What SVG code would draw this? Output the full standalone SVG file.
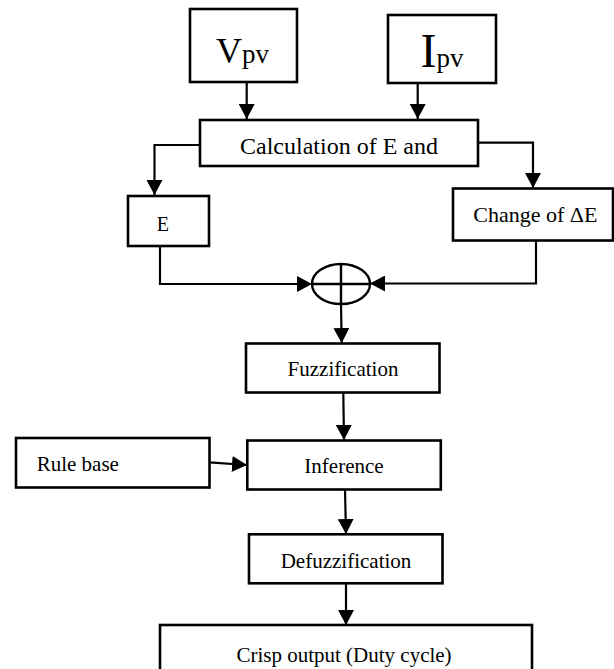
<svg xmlns="http://www.w3.org/2000/svg" width="614" height="669" viewBox="0 0 614 669">
  <style>
    .box { fill: #ffffff; stroke: #000000; stroke-width: 2.6; }
    .lbl { font-family: "Liberation Serif", "Times New Roman", serif; fill: #000000; }
    .wire { fill: none; stroke: #000000; stroke-width: 2.2; }
    .sum { fill: none; stroke: #000000; stroke-width: 2.4; }
  </style>
  <defs>
    <marker id="arrow" markerUnits="userSpaceOnUse" markerWidth="16" markerHeight="16" viewBox="0 0 16 16" refX="15" refY="8" orient="auto">
      <path d="M0,0 L15,8 L0,16 Z" fill="#000000"/>
    </marker>
  </defs>

  <!-- input: PV voltage -->
  <g id="vpv">
    <rect class="box" x="190" y="9" width="107" height="73"/>
    <text class="lbl" x="216" y="63"><tspan font-size="36">V</tspan><tspan font-size="27">pv</tspan></text>
  </g>

  <!-- input: PV current -->
  <g id="ipv">
    <rect class="box" x="388" y="15" width="108" height="68"/>
    <text class="lbl" x="420.5" y="66.5"><tspan font-size="48">I</tspan><tspan font-size="27">pv</tspan></text>
  </g>

  <!-- error calculation -->
  <g id="calc">
    <rect class="box" x="200" y="120" width="278" height="46"/>
    <text class="lbl" x="339" y="153.5" font-size="24" text-anchor="middle">Calculation of E and</text>
  </g>

  <!-- error E -->
  <g id="err">
    <rect class="box" x="128" y="196" width="81" height="50"/>
    <text class="lbl" x="156.7" y="230.7" font-size="20">E</text>
  </g>

  <!-- change of error -->
  <g id="derr">
    <rect class="box" x="453" y="188.5" width="160" height="52"/>
    <text class="lbl" x="473.3" y="222" font-size="22">Change of ΔE</text>
  </g>

  <!-- summing junction -->
  <g id="sum">
    <ellipse class="sum" cx="341" cy="284" rx="29" ry="20"/>
    <line class="sum" x1="341" y1="264" x2="341" y2="304"/>
    <line class="sum" x1="312" y1="284" x2="370" y2="284"/>
  </g>

  <!-- fuzzy controller stages -->
  <g id="fuzz">
    <rect class="box" x="246" y="343.5" width="193.5" height="49"/>
    <text class="lbl" x="343" y="375.7" font-size="21" text-anchor="middle">Fuzzification</text>
  </g>

  <g id="rules">
    <rect class="box" x="16" y="438" width="193.5" height="49.5"/>
    <text class="lbl" x="36.7" y="470.7" font-size="21">Rule base</text>
  </g>

  <g id="infer">
    <rect class="box" x="247.3" y="440.5" width="193.5" height="49"/>
    <text class="lbl" x="344" y="472.7" font-size="21" text-anchor="middle">Inference</text>
  </g>

  <g id="defuzz">
    <rect class="box" x="249" y="534.3" width="193.5" height="49"/>
    <text class="lbl" x="346" y="568.3" font-size="21" text-anchor="middle">Defuzzification</text>
  </g>

  <g id="out">
    <rect class="box" x="160" y="625" width="372" height="60"/>
    <text class="lbl" x="344" y="661.5" font-size="21" text-anchor="middle">Crisp output (Duty cycle)</text>
  </g>

  <!-- signal flow -->
  <g id="connectors">
    <polyline class="wire" points="246.7,82 246.7,119" marker-end="url(#arrow)"/>
    <polyline class="wire" points="417.7,83 417.7,119" marker-end="url(#arrow)"/>
    <polyline class="wire" points="200,145 154.5,145 154.5,195" marker-end="url(#arrow)"/>
    <polyline class="wire" points="478,142.7 533,142.7 533,188" marker-end="url(#arrow)"/>
    <polyline class="wire" points="160,246 160,284 312,284" marker-end="url(#arrow)"/>
    <polyline class="wire" points="536,240.5 536,283.5 370,283.5" marker-end="url(#arrow)"/>
    <polyline class="wire" points="341,304 341.7,343" marker-end="url(#arrow)"/>
    <polyline class="wire" points="343.3,393 344,440" marker-end="url(#arrow)"/>
    <polyline class="wire" points="209.3,462.3 247,465" marker-end="url(#arrow)"/>
    <polyline class="wire" points="345,489.5 346,534" marker-end="url(#arrow)"/>
    <polyline class="wire" points="346,583.5 346,625" marker-end="url(#arrow)"/>
  </g>
</svg>
